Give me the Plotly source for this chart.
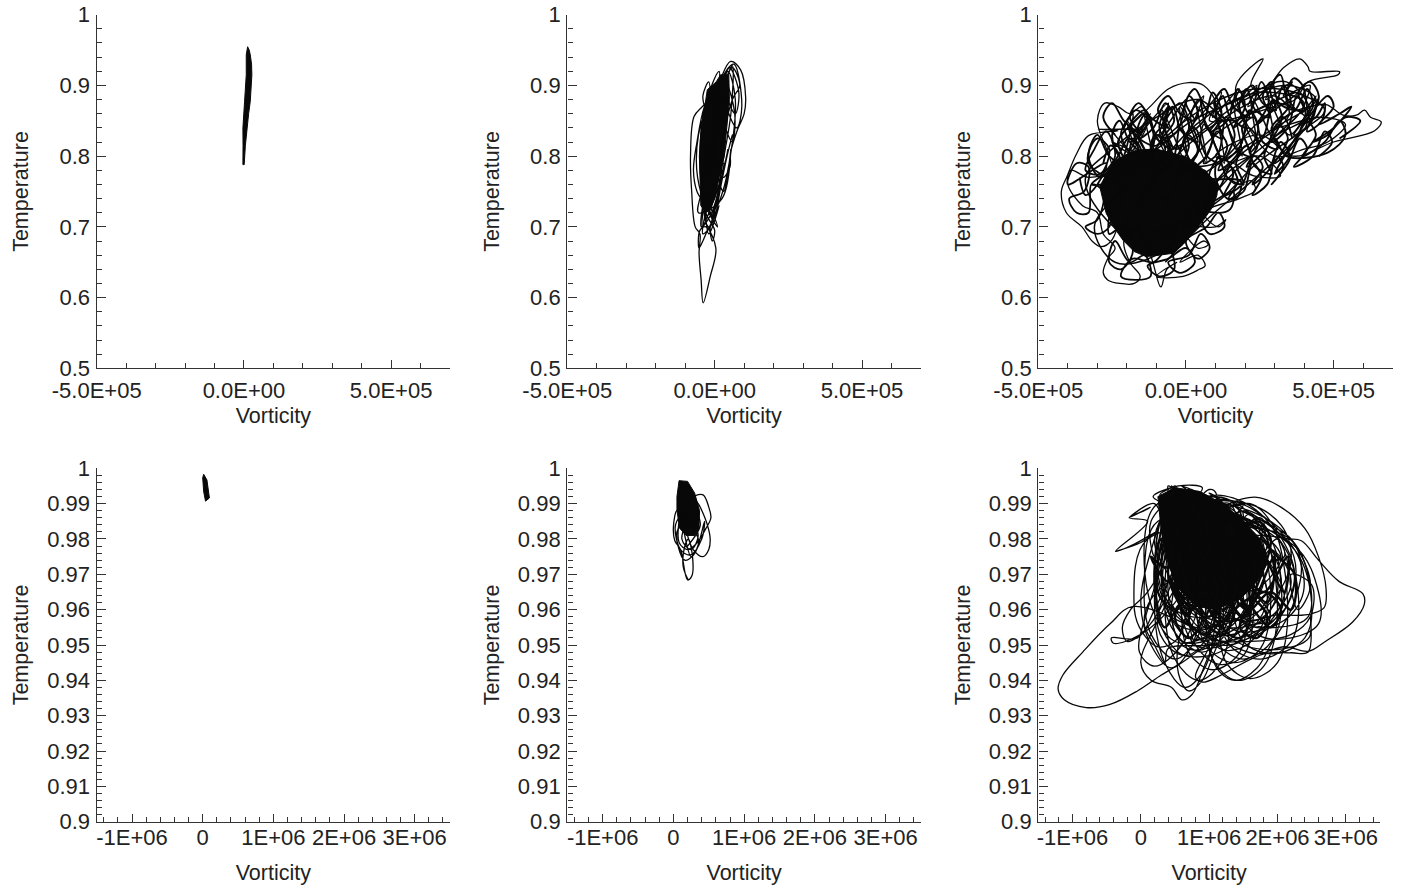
import plotly.graph_objects as go

# ---- panel a: thin sliver (vorticity, temperature)
a_vort = [12.6e3, 18e3, 21.6e3, 26e3, 27e3, 25e3, 21.6e3, 16e3, 10e3, 5e3, 1e3, -3.4e3, -3e3, -3.4e3, 2.3e3, 8e3, 8e3, 12.6e3]
a_temp = [.9547, .95, .9434, .93, .915, .895, .8774, .86, .84, .815, .788, .788, .815, .84, .8774, .915, .9434, .9547]

# ---- panel b
b_core_v = [-25, 5, 20, 48, 50, 40, 32, 15, 3, -15, -30, -47, -50, -52, -47, -35, -25]
b_core_t = [.894, .905, .915, .915, .88, .84, .7996, .77, .743, .725, .72, .73, .776, .80, .8326, .87, .894]
b_v = [-20, -40, -53, -50, -30, 4, -15, -39, -46, -53, -50, -66, -78, -82, -70, -42, -20, 10, 54, 88, 105, 100, 77, 54, 52, 30,
       20, 60, 85, 60, 30, 75, 92, 65, 28, 70, 82, 50, 20, 60, 68, 40, 10, -20, -45, -10, 30, -25, -40, -5,
       -60, -72, -60, -35, 0, -55, -58, -20, 10, -30, -20, 15, -15, -8, 0, -30, -50, -30, 15, -25, -5, 25, -35, -20, 20, 40,
       -10, 5, 45, 30, -42, -35, 10, 35, 60, 55, 15, 60, 42, 10, 40, 70, 45, 5, 30, 55, 25, -55, -40, -28, -40, -20, -10, -5]
b_t = [.70, .68, .67, .695, .70, .67, .63, .5926, .625, .663, .69, .70, .75, .7995, .856, .87, .88, .90, .934, .922, .884, .86, .837, .805, .785, .77,
       .80, .88, .90, .925, .89, .84, .87, .93, .91, .86, .89, .925, .87, .82, .86, .90, .85, .78, .70, .72, .79, .73, .69, .71,
       .75, .78, .82, .87, .90, .83, .77, .72, .70, .74, .69, .73, .70, .68, .695, .72, .80, .875, .92, .75, .71, .78, .72, .70, .76, .80,
       .71, .73, .81, .78, .70, .735, .83, .90, .928, .86, .76, .83, .80, .73, .77, .88, .92, .79, .75, .81, .74, .72, .76, .855, .885, .905, .875, .90]

# ---- panel c (vorticity in thousands)
c_core_v = [-292, -265, -236, -190, -157, -100, -44, -5, 35, 75, 108, 105, 91, 60, 24, -10, -44, -90, -134, -175, -213, -245, -270, -292]
c_core_t = [.757, .778, .7945, .805, .809, .81, .804, .80, .79, .775, .7615, .745, .7285, .71, .691, .675, .6626, .66, .658, .665, .681, .70, .719, .757]
c_outer_v = [-146, -298, -230, -330, -372, -402, -422, -405, -352, -318, -288, -250,
             -220, -260, -300, -275, -230, -190, -150, -130, -160, -250, -330, -390, -400, -350, -300,
             -280, -240, -265, -280, -265, -225, -175, -155, -190, -210, -170, -120, -85, -65, -30, -100, -10, 45, 65, 40, -20,
             60, 75, 40, -10, 100, 135, 110, 60, 180, 235, 220, 170, 130, 250, 320, 230, 160,
             100, 250, 362, 500, 639, 661, 625, 605, 577, 532, 475, 420, 350, 300, 450, 540, 480, 400, 300,
             200, 170, 261, 220, 260, 330, 385, 413, 420, 520, 515, 413, 370, 300,
             80, 100, 60, 10, -60, -110, -170, -210, -150]
c_outer_t = [.838, .838, .836, .829, .802, .772, .75, .72, .70, .68, .672, .682,
             .74, .80, .85, .875, .87, .86, .87, .85, .82, .78, .77, .78, .76, .73, .72,
             .69, .67, .655, .635, .625, .62, .62, .63, .65, .68, .70, .66, .615, .64, .65, .63, .63, .64, .645, .66, .65,
             .68, .675, .67, .70, .70, .71, .70, .72, .74, .752, .765, .76, .78, .80, .772, .772, .79,
             .80, .83, .80, .82, .836, .8485, .855, .865, .858, .858, .873, .87, .86, .84, .855, .845, .82, .81, .80,
             .85, .90, .9375, .90, .89, .925, .9375, .9265, .92, .9195, .915, .905, .88, .87,
             .85, .875, .90, .904, .895, .875, .85, .835, .86]
c_upper_v = [-210, -170, -130, -160, -110, -70, -40, -80, -30, 10, 40, 0, 60, 90, 120, 80, 140, 175, 200, 160, 220, 255, 280, 240, 300, 330, 355, 310, 370, 410, 430, 385, 440, 470, 460, 410,
             450, 420, 380, 400, 350, 320, 285, 305, 260, 225, 190, 215, 160, 130, 95, 120, 70, 30, 0, 30, -20, -60, -95, -60, -120, -160, -190, -150, -210, -250, -280, -240]
c_upper_t = [.84, .865, .85, .825, .84, .875, .85, .825, .835, .885, .86, .83, .85, .89, .86, .835, .85, .895, .87, .84, .865, .905, .875, .845, .87, .90, .875, .85, .865, .895, .87, .845, .855, .875, .85, .835,
             .885, .905, .89, .865, .87, .915, .895, .865, .875, .90, .88, .855, .87, .895, .875, .85, .865, .895, .875, .85, .86, .885, .865, .84, .855, .875, .855, .83, .85, .875, .855, .83]
c_middle_v = [360, 330, 290, 310, 260, 230, 190, 220, 170, 130, 90, 120, 70, 30, -10, 20, -40, -80, -120, -90, -150, -190, -230, -200, -260, -300, -330, -290,
              -230, -195, -160, -185, -130, -95, -60, -90, -30, 5, 40, 10, 70, 105, 140, 110, 170, 210, 245, 205, 270, 310, 345, 300, 365, 405, 440, 395, 470, 520, 540, 480,
              340, 300, 265, 290, 235, 205, 170, 195, 140, 110, 100, 140, 170, 185,
              80, 120, 160, 130, 190, 230, 260, 225, 280, 320, 350, 300, 480, 500, 450, 520, 560, 500, 430, 480, 540, 590, 520]
c_middle_t = [.825, .855, .84, .81, .82, .855, .84, .80, .81, .85, .83, .79, .80, .84, .82, .785, .80, .84, .815, .78, .80, .84, .82, .785, .80, .83, .80, .77,
              .80, .825, .81, .785, .80, .83, .81, .785, .80, .83, .81, .78, .80, .835, .815, .78, .80, .84, .82, .785, .81, .845, .825, .79, .815, .85, .83, .80, .82, .85, .83, .805,
              .80, .825, .80, .775, .785, .815, .79, .76, .77, .80, .77, .74, .74, .765,
              .77, .80, .775, .745, .76, .80, .785, .76, .78, .82, .80, .775, .885, .87, .845, .86, .87, .84, .82, .83, .855, .85, .825]
c_fringe_v = [-360, -340, -300, -270, -400, -370, -330, -345, -395, -370, -330, -320, -280, -300, -340, -300, -260, -250,
              -260, -215, -180, -220, -260, -240, -190, -140, -120, -170, -220, -180, -110, -60, -40, -90, -130, -60, 0, 30, -20, -60, 10, 50, 80, 40, 0, 70, 110, 130, 80, 50, 110, 160, 150, 100,
              -330, -300, -260, -290, -340, -310, -270, -240, -280, -320, -250, -210, -180, -220, -150, -110, -140, -190, -100, -60, -90, -30, 10, -20, -70]
c_fringe_t = [.77, .745, .76, .79, .76, .79, .785, .75, .74, .72, .72, .76, .75, .71, .70, .69, .70, .74,
              .69, .70, .665, .64, .65, .68, .65, .66, .63, .625, .63, .655, .65, .67, .64, .63, .645, .655, .67, .65, .635, .65, .66, .69, .67, .655, .68, .70, .72, .70, .69, .72, .74, .75, .725, .72,
              .79, .825, .81, .775, .78, .81, .835, .80, .775, .76, .765, .80, .86, .83, .79, .83, .865, .84, .815, .87, .84, .81, .84, .875, .85]
c_dense_v = [-280, -255, -225, -250, -205, -180, -150, -175, -125, -100, -70, -95, -45, -20, 10, -15, 35, 60, 90, 60, 110, 135, 165, 135, 185, 215, 245, 215, 265, 295, 325, 290, 345, 375, 405, 365, 420, 445, 420,
             395, 365, 340, 370, 315, 290, 260, 285, 235, 205, 180, 205, 150, 125, 100, 125, 70, 45, 15, 40, -15, -45, -75, -45, -100, -135, -165, -130, -190, -225, -250, -215,
             -20, 20, 60, 90, 70, 120, 150, 175, 145, 195, 225, 255, 225, 275, 305, 330, 290, 345, 385, 410, 365, 430, 470, 495, 450]
c_dense_t = [.79, .815, .80, .775, .785, .825, .805, .78, .79, .83, .81, .785, .795, .84, .815, .785, .80, .845, .825, .79, .805, .855, .83, .795, .815, .865, .84, .805, .83, .88, .855, .82, .84, .885, .86, .83, .845, .88, .85,
             .90, .91, .885, .865, .875, .905, .885, .855, .865, .895, .87, .84, .855, .885, .86, .825, .84, .88, .855, .82, .835, .87, .845, .81, .825, .86, .835, .80, .82, .85, .83, .795,
             .78, .77, .78, .755, .735, .76, .785, .765, .74, .75, .79, .77, .745, .76, .80, .785, .76, .79, .825, .81, .785, .80, .835, .82, .80]
c_long_v = [-250, 0, 200, 350, 440, 300, 150, 0, -150, -100, 50, 250, 400, 280, 120, -50, -200, -120, 80, 300, 350, 180, 50, -80, -50, 100, 260, 380, 250, 100, -60, -250, -150, 20, 180, 340, 420, 310, 170, 40, -100, -240, -310, -200, -60, 90, 230, 370, 470, 390, 240, 120, -30, -160, -290, -340, -250, -120, 40, 150, 310, 410, 340, 210, 70, -70]
c_long_t = [.77, .82, .88, .90, .88, .84, .80, .76, .73, .78, .85, .89, .875, .82, .77, .70, .70, .76, .84, .885, .86, .80, .74, .68, .75, .83, .87, .89, .85, .79, .79, .82, .80, .85, .88, .905, .86, .83, .78, .72, .66, .65, .70, .76, .83, .875, .895, .89, .865, .835, .79, .74, .70, .68, .72, .77, .81, .85, .88, .85, .875, .85, .81, .76, .71, .65]
c_cross_v = [-200, -120, -180, -60, -90, 0, -30, 60, 30, 120, 90, 180, 150, 240, 210, 300, 270, 360, 330, 420, 390, 440, 350, 280, 300, 220, 240, 160, 190, 100, 130, 40, 70, -20, 10, -80, -50, -140, -110, -200, -170, -260]
c_cross_t = [.80, .86, .82, .875, .83, .88, .84, .885, .85, .89, .855, .895, .865, .90, .87, .905, .88, .905, .885, .90, .86, .885, .83, .88, .82, .885, .81, .88, .80, .875, .79, .87, .79, .87, .78, .865, .79, .86, .79, .85, .80, .84]

# ---- panel d: small sliver
d_vort = [.014e6, .06e6, .095e6, .04e6, .014e6, 0, .014e6]
d_temp = [.9983, .9967, .9916, .9907, .9934, .9973, .9983]

# ---- panel e (vorticity in millions)
e_core_v = [.08, .2, .3, .37, .36, .3, .18, .09, .05, .05, .08]
e_core_t = [.9965, .9963, .993, .988, .983, .981, .981, .983, .988, .992, .9965]
e_v = [.21, .14, .15, .21, .27, .26, .2, .1, .02, 0, .05, .15, .28, .42, .5, .52, .48, .38, .3,
       .42, .5, .53, .46, .34, .2, .08, .1, .25, .36, .28, .14, .03, .1, .24, .4, .44, .3, .16, .05, .22, .35, .25, .12, .3, .38, .2]
e_t = [.9684, .972, .977, .98, .975, .9695, .9684, .977, .9795, .9834, .988, .984, .977, .975, .977, .98, .984, .989, .992,
       .9925, .989, .986, .983, .979, .977, .979, .986, .975, .979, .983, .987, .984, .977, .9755, .98, .985, .976, .974, .982, .986, .981, .977, .98, .988, .984, .978]

# ---- panel f (vorticity in millions)
f_core_v = [.25, .5, .85, 1.2, 1.5, 1.75, 1.85, 1.7, 1.45, 1.1, .8, .55, .4, .3, .25]
f_core_t = [.992, .9945, .9935, .99, .985, .98, .973, .968, .963, .96, .961, .966, .973, .982, .992]
f_v = [-.37, 0, .22, -.1, -.37, .1, -.17, .05, .14, -.17, .2,
       .35, .1, -.15, -.27, -.2, .1, .4, .6, .55,
       .45, .7, .2, -.05, -.43, -.4, 0, .5, 1.0, 1.1,
       1.0, .5, .1, -.02, .2, .6, 1.0, 1.3,
       1.5, .8, .2, 0, .15, .45, .6, .75, .95, 1.4, 1.8,
       1.7, 1.1, .6, .55, .7, .9, 1.1, 1.6, 2.0,
       2.1, 1.6, 1.1, 1.0, 1.15, 1.4, 1.7, 1.9, 2.2, 2.35, 2.2,
       1.35, 1.7, 2.05, 2.4, 2.6, 2.71, 2.68, 2.4, 2.0, 1.5,
       1.1, 1.7, 2.15, 2.35, 2.6, 2.9, 3.25, 3.27, 3.1, 2.7, 2.45, 2.1, 1.7, 1.3,
       -.11, -.45, -.85, -1.14, -1.21, -1.12, -.8, -.45, -.05, .3, .6, 1.0, .8,
       .9, 1.8, 2.2, 2.45, 2.48, 2.46, 2.1, 1.5, .8, .4, .2, .5, 1.2, 1.9, 2.3, 2.48, 2.3,
       2.2, 2.5, 2.48, 2.2, 1.6, 1.0, .5, .3, .6, 1.3, 2.0, 2.24, 2.26, 2.1, 1.6, 1.0,
       .4, .35, .2, .05, .15, .55, 1.1, 1.7, 1.85, 1.6, 1.0, .5, .25, .35, .8, 1.5, 2.05, 2.2, 1.9, 1.4,
       .8, .45, .3, .55, 1.1, 1.7, 1.95, 1.75, 1.1, .6, .45, .55, .95, 1.6, 2.0, 2.25, 2.0, 1.4, .9, .55, .6, 1.0,
       1.7, 2.15, 1.95, 1.3, .8, .55, .72, 1.2, 1.75, 2.1, 1.8, 1.2, .75, .65, .95, 1.5, 1.9, 1.7, 1.1, .7,
       .5, .4, .75, 1.35, 1.8, 1.5, .95, .55, .32, .52, 1.05, 1.55, 1.85, 1.55, .9, .45, .35, .2,
       .15, .65, .35, .25, .5, 1.2, 1.45, 1.1, .7, .35, .25, .5, 1.0, 1.6, 1.9, 2.2,
       1.9, 1.2, .6, .5, .55, 1.0, 1.5, 2.05, 1.5, .95, .75, .85, 1.3, 1.85, 2.05, 1.7, 1.1, .8, 1.0, 1.5,
       .28, .5, .42, .18, .55, .9, .75, .35]
f_t = [.9765, .979, .982, .9785, .9765, .985, .986, .988, .989, .986, .99,
       .975, .965, .96, .955, .951, .955, .965, .98, .992,
       .995, .985, .96, .952, .952, .9505, .953, .962, .98, .993,
       .994, .98, .96, .948, .944, .95, .97, .99,
       .99, .975, .955, .945, .94, .938, .9345, .936, .945, .965, .985,
       .986, .972, .955, .942, .937, .94, .949, .97, .98,
       .975, .972, .96, .95, .9425, .94, .9435, .95, .96, .972, .98,
       .99, .9918, .989, .983, .975, .966, .9605, .9585, .9585, .9575,
       .976, .981, .98, .9795, .974, .968, .9645, .9615, .9565, .951, .9482, .9495, .9475, .95,
       .9609, .956, .948, .9415, .9375, .9345, .9323, .9332, .937, .9415, .945, .95, .941,
       .9395, .9475, .9478, .948, .958, .952, .949, .95, .96, .97, .98, .99, .99, .985, .977, .9665, .96,
       .97, .967, .958, .953, .951, .952, .96, .975, .988, .991, .983, .975, .968, .96, .953, .95,
       .949, .945, .95, .956, .963, .97, .976, .972, .963, .954, .947, .948, .955, .965, .982, .99, .984, .974, .962, .957,
       .955, .96, .972, .985, .992, .985, .97, .96, .952, .951, .958, .97, .985, .99, .982, .97, .957, .951, .953, .962, .978, .992,
       .988, .973, .958, .95, .953, .966, .98, .987, .977, .963, .955, .96, .973, .987, .982, .968, .958, .956, .965, .98,
       .99, .975, .96, .957, .968, .982, .991, .983, .97, .956, .955, .967, .98, .985, .99, .994, .988, .975,
       .985, .994, .978, .965, .96, .972, .988, .992, .99, .98, .97, .96, .958, .966, .977, .968,
       .958, .955, .962, .975, .987, .99, .985, .975, .962, .955, .962, .978, .987, .979, .966, .957, .96, .975, .987, .99,
       .9925, .9945, .99, .992, .995, .9945, .991, .988]
f_more_v = [1.5, 1.7, 1.5, 1.0, .6, .5, .8, 1.2, 1.45, 1.3, .9, .45, .3, .55, 1.0, 1.2, 1.0, .65, .3, .2, .4,
            .8, 1.0, .85, .5, .15, .05, .25, 1.8, 2.05, 1.95, 1.5, 1.05, .85, 1.1, 2.0, 2.3, 2.2, 1.75, 1.3, 1.1, 1.4,
            1.6, 1.9, 1.75, 1.35, .95, .8, 1.05, 1.3, 1.55, 1.45, 1.05, .7, .6, .85, 1.1, 1.3, 1.2, .85, .5, .35, .6,
            .9, 1.1, .95, .65, .35, .2, .45, 2.2, 2.5, 2.4, 1.95, 1.5, 1.35, 1.6, 1.9, 2.15, 2.0, 1.6, 1.25, 1.15, 1.35,
            1.7, 2.0, 1.8, 1.4, 1.05, .95, 1.2, 1.4, 1.65, 1.5, 1.15, .8, .7, .95, .7, .9, .75, .45, .15, 0, .2,
            .5, .7, .55, .25, -.02, -.1, .1, 2.1, 2.42, 2.45, 2.0, 1.5, 1.2, 1.5, 1.5, 2.25, 2.38, 2.1, 1.4, .9, 1.2,
            1.0, 1.8, 2.0, 1.7, 1.0, .5, .7, .6, 1.4, 1.6, 1.3, .7, .25, .4, .4, 1.1, 1.3, 1.0, .5, .1, .25,
            2.25, 2.6, 2.6, 2.2, 1.7, 1.3, 1.6, 1.2, 1.7, 1.85, 1.55, 1.15, .85, 1.0, .9, 1.35, 1.5, 1.2, .8, .55, .7,
            .7, 1.1, 1.2, .95, .6, .4, .5]
f_more_t = [.985, .97, .955, .95, .96, .975, .988, .99, .972, .955, .948, .955, .972, .99, .992, .972, .953, .947, .955, .972, .99,
            .993, .972, .953, .946, .953, .967, .985, .982, .968, .952, .946, .952, .968, .985, .98, .965, .951, .946, .95, .965, .983,
            .987, .966, .949, .945, .95, .966, .988, .99, .966, .948, .943, .948, .966, .99, .992, .965, .946, .94, .946, .965, .991,
            .993, .965, .944, .938, .945, .963, .99, .978, .962, .952, .9475, .951, .965, .985, .984, .96, .945, .9405, .945, .962, .987,
            .986, .96, .944, .94, .946, .962, .989, .989, .96, .947, .9445, .95, .963, .99, .994, .968, .95, .9435, .95, .962, .98,
            .995, .97, .952, .9495, .955, .962, .98, .981, .972, .958, .955, .957, .97, .986, .988, .977, .965, .957, .954, .965, .99,
            .993, .98, .965, .956, .953, .967, .993, .995, .985, .965, .955, .952, .968, .993, .995, .98, .963, .953, .951, .965, .99,
            .978, .965, .956, .952, .953, .965, .98, .99, .975, .96, .95, .949, .962, .985, .992, .975, .958, .95, .95, .964, .985,
            .99, .975, .958, .949, .95, .965, .985]
f_dense_v = [.3, .6, .4, .15, .35, .7, .5, .25, .45, .9, .75, .45, .7, 1.15, 1.0, .7, 1.0, 1.4, 1.25, .95, 1.2, 1.65, 1.55, 1.2,
             1.5, 1.95, 1.85, 1.5, 1.8, 2.15, 2.1, 1.75, 2.0, 2.25, 2.2, 1.9, 1.6, 1.9, 1.7, 1.3, 1.6, 1.5, 1.15, .85, 1.15, 1.0, .65, .4, .7, .55, .3, .2,
             .35, .6, .9, .7, .5, .8, 1.1, .95, .7, 1.05, 1.35, 1.2, .95, 1.3, 1.6, 1.45, 1.2, 1.6, 1.85, 1.7, 1.45, 1.8, 2.05, 1.9, 1.65]
f_dense_t = [.985, .98, .968, .975, .972, .972, .96, .965, .985, .975, .96, .968, .96, .972, .958, .966, .958, .972, .957, .965, .96, .975, .96, .968,
             .958, .975, .962, .97, .965, .975, .965, .98, .975, .97, .96, .965, .96, .98, .985, .975, .958, .972, .98, .968, .956, .975, .985, .97, .958, .975, .98, .97,
             .955, .962, .958, .952, .958, .965, .96, .953, .957, .966, .96, .953, .957, .966, .958, .952, .955, .963, .958, .952, .955, .965, .96, .955, .96]

top_x_ticks = [-5e5, 0, 5e5]
top_x_text = ["-5.0E+05", "0.0E+00", "5.0E+05"]
top_y_ticks = [.5, .6, .7, .8, .9, 1]
top_y_text = ["0.5", "0.6", "0.7", "0.8", "0.9", "1"]
bot_x_ticks = [-1e6, 0, 1e6, 2e6, 3e6]
bot_x_text = ["-1E+06", "0", "1E+06", "2E+06", "3E+06"]
bot_y_ticks = [.9, .91, .92, .93, .94, .95, .96, .97, .98, .99, 1]
bot_y_text = ["0.9", "0.91", "0.92", "0.93", "0.94", "0.95", "0.96", "0.97", "0.98", "0.99", "1"]

W, H = 1407, 885
INK, AXIS = "#080808", "#333333"
panels = [
    (96.7, 450, 14.7, 368.3, "top"), (567.3, 921, 14.7, 368.3, "top"), (1038.3, 1392.7, 14.7, 368.3, "top"),
    (96.7, 450, 468.3, 821.7, "bot"), (567.3, 921, 468.3, 821.7, "bot"), (1038.3, 1380, 468.3, 821.7, "bot"),
]

fig = go.Figure()
layout = dict(width=W, height=H, margin=dict(l=0, r=0, t=0, b=0, autoexpand=False), autosize=False,
              paper_bgcolor="white", plot_bgcolor="white", showlegend=False,
              font=dict(family="Liberation Sans", size=22, color="#222222"))
for i, (x0, x1, y0, y1, row) in enumerate(panels, 1):
    top = row == "top"
    layout[f"xaxis{i}"] = dict(
        domain=[x0 / W, x1 / W], anchor=f"y{i}",
        range=[-5e5, 7e5] if top else [-1.5e6, 3.5e6],
        tickmode="array", tickvals=top_x_ticks if top else bot_x_ticks,
        ticktext=top_x_text if top else bot_x_text, tickfont=dict(size=22),
        ticks="inside", ticklen=8, tickwidth=1.2, tickcolor=AXIS,
        minor=dict(tickmode="linear", tick0=0, dtick=1e5 if top else 2e5, ticks="inside",
                   ticklen=5, tickwidth=1.2, tickcolor=AXIS),
        showline=True, linecolor=AXIS, linewidth=1.4, showgrid=False, zeroline=False,
        ticklabelstandoff=2 if top else -4,
        title=dict(text="Vorticity", font=dict(size=21.5), standoff=6 if top else 23),
    )
    layout[f"yaxis{i}"] = dict(
        domain=[1 - y1 / H, 1 - y0 / H], anchor=f"x{i}",
        range=[.5, 1] if top else [.9, 1],
        tickmode="array", tickvals=top_y_ticks if top else bot_y_ticks,
        ticktext=top_y_text if top else bot_y_text, tickfont=dict(size=22),
        ticks="inside", ticklen=9, tickwidth=1.2, tickcolor=AXIS,
        minor=dict(tickmode="linear", tick0=.5 if top else .9, dtick=.02 if top else .002, ticks="inside",
                   ticklen=5, tickwidth=1.2, tickcolor=AXIS),
        showline=True, linecolor=AXIS, linewidth=1.4, showgrid=False, zeroline=False,
        ticklabelstandoff=1,
        title=dict(text="Temperature", font=dict(size=21.5), standoff=24 if top else 12),
    )
fig.update_layout(**layout)


def solid(i, xs, ys, color=INK):
    assert len(xs) == len(ys), (i, len(xs), len(ys))
    fig.add_trace(go.Scatter(x=xs, y=ys, mode="lines", fill="toself", fillcolor=color,
                             line=dict(color=color, width=1),
                             xaxis=f"x{i}", yaxis=f"y{i}", hoverinfo="skip"))


def orbit(i, xs, ys, w=1.3):
    assert len(xs) == len(ys), (i, len(xs), len(ys))
    fig.add_trace(go.Scatter(x=xs, y=ys, mode="lines",
                             line=dict(color=INK, width=w, shape="spline", smoothing=1),
                             xaxis=f"x{i}", yaxis=f"y{i}", hoverinfo="skip"))


k = 1e3
M = 1e6
solid(1, a_vort, a_temp)
solid(2, [v * k for v in b_core_v], b_core_t)
orbit(2, [v * k for v in b_v], b_t)
solid(3, [v * k for v in c_core_v], c_core_t)
orbit(3, [v * k for v in c_outer_v], c_outer_t)
for xs, ys in [(c_upper_v, c_upper_t), (c_middle_v, c_middle_t), (c_dense_v, c_dense_t)]:
    orbit(3, [v * k for v in xs], ys, 1.9)
orbit(3, [v * k for v in c_fringe_v], c_fringe_t, 1.8)
orbit(3, [v * k for v in c_long_v], c_long_t, 1.5)
orbit(3, [v * k for v in c_cross_v], c_cross_t, 1.5)
solid(4, d_vort, d_temp)
solid(5, [v * M for v in e_core_v], e_core_t)
orbit(5, [v * M for v in e_v], e_t)
solid(6, [v * M for v in f_core_v], f_core_t)
orbit(6, [v * M for v in f_v], f_t)
orbit(6, [v * M for v in f_more_v], f_more_t)
orbit(6, [v * M for v in f_dense_v], f_dense_t, 2.4)

fig.write_html("out.html", config={"displayModeBar": False},
               post_script="document.body.style.margin='0';document.body.style.overflow='hidden';")
